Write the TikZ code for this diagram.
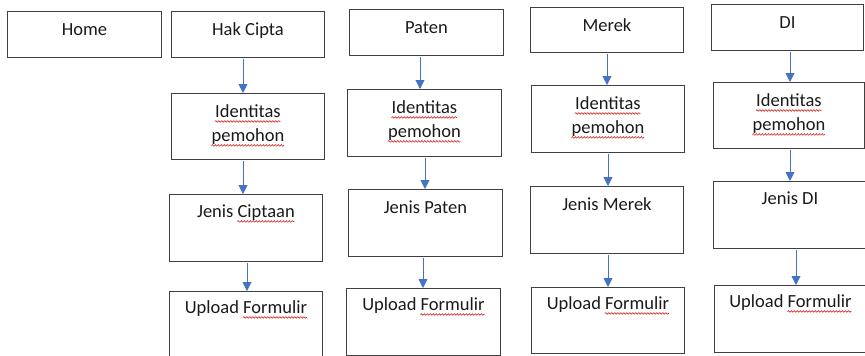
\documentclass[tikz,border=0pt]{standalone}
\usepackage{fontspec}
\setmainfont{Carlito}
\usetikzlibrary{arrows.meta,decorations.pathmorphing}
\definecolor{arrowblue}{HTML}{4472C4}
\definecolor{boxline}{HTML}{404040}
\definecolor{txt}{HTML}{1A1A1A}
\definecolor{wavered}{HTML}{E02020}
\newsavebox\wavebox
\newcommand\spellwave[1]{\sbox\wavebox{#1}\usebox\wavebox\llap{\tikz[baseline=0pt]\draw[wavered, line width=0.6pt, decorate, decoration={snake, amplitude=0.8pt, segment length=3pt}] (0pt,-4pt) -- (\wd\wavebox,-4pt);}}
\tikzset{
  box/.style={draw=boxline, line width=0.9pt, inner sep=0pt, align=center,
    anchor=north west, text=txt, font=\fontsize{18.5}{24}\selectfont},
  arr/.style={draw=arrowblue, line width=0.9pt, shorten <=1pt,
    -{Triangle[width=9pt,length=9pt]}, fill=arrowblue}
}
\begin{document}
\begin{tikzpicture}[x=1pt,y=-1pt]
\clip (0,0) rectangle (865,356);
% top row
\node[box, minimum width=154, text height=24, text depth=22] (home) at (7,11) {Home};
\node[box, minimum width=153, text height=24, text depth=22] (hc) at (171,11) {Hak Cipta};
\node[box, minimum width=154, text height=24, text depth=22] (pt) at (349,9) {Paten};
\node[box, minimum width=153, text height=24, text depth=21] (mr) at (530,7) {Merek};
\node[box, minimum width=152, text height=24, text depth=22] (di) at (711,4) {DI};
% identitas
\node[box, minimum width=153, text height=48, text depth=18] (hcid) at (171,93) {\spellwave{Identitas}\\\spellwave{pemohon}};
\node[box, minimum width=154, text height=48, text depth=19] (ptid) at (347,89) {\spellwave{Identitas}\\\spellwave{pemohon}};
\node[box, minimum width=153, text height=48, text depth=19] (mrid) at (531,85) {\spellwave{Identitas}\\\spellwave{pemohon}};
\node[box, minimum width=151, text height=48, text depth=18] (diid) at (713,82) {\spellwave{Identitas}\\\spellwave{pemohon}};
% jenis
\node[box, minimum width=153, text height=23, text depth=44] (hcj) at (169,194) {Jenis \spellwave{Ciptaan}};
\node[box, minimum width=154, text height=24, text depth=43] (ptj) at (348,189) {Jenis Paten};
\node[box, minimum width=153, text height=24, text depth=43] (mrj) at (530,186) {Jenis Merek};
\node[box, minimum width=153, text height=23, text depth=44] (dij) at (713,181) {Jenis DI};
% upload
\node[box, minimum width=153, text height=22, text depth=48] (hcu) at (169,291) {Upload \spellwave{Formulir}};
\node[box, minimum width=154, text height=22, text depth=45] (ptu) at (346,288) {Upload \spellwave{Formulir}};
\node[box, minimum width=153, text height=22, text depth=44] (mru) at (531,287) {Upload \spellwave{Formulir}};
\node[box, minimum width=152, text height=22, text depth=45] (diu) at (714,285) {Upload \spellwave{Formulir}};
% arrows
\draw[arr] (hc.south -| 243,0) -- (hcid.north -| 243,0);
\draw[arr] (hcid.south -| 243,0) -- (hcj.north -| 243,0);
\draw[arr] (hcj.south -| 247,0) -- (hcu.north -| 247,0);
\draw[arr] (pt.south -| 420,0) -- (ptid.north -| 420,0);
\draw[arr] (ptid.south -| 425,0) -- (ptj.north -| 425,0);
\draw[arr] (ptj.south -| 423,0) -- (ptu.north -| 423,0);
\draw[arr] (mr.south -| 607,0) -- (mrid.north -| 607,0);
\draw[arr] (mrid.south -| 608,0) -- (mrj.north -| 608,0);
\draw[arr] (mrj.south -| 608,0) -- (mru.north -| 608,0);
\draw[arr] (di.south -| 790,0) -- (diid.north -| 790,0);
\draw[arr] (diid.south -| 790,0) -- (dij.north -| 790,0);
\draw[arr] (dij.south -| 796,0) -- (diu.north -| 796,0);
\end{tikzpicture}
\end{document}
